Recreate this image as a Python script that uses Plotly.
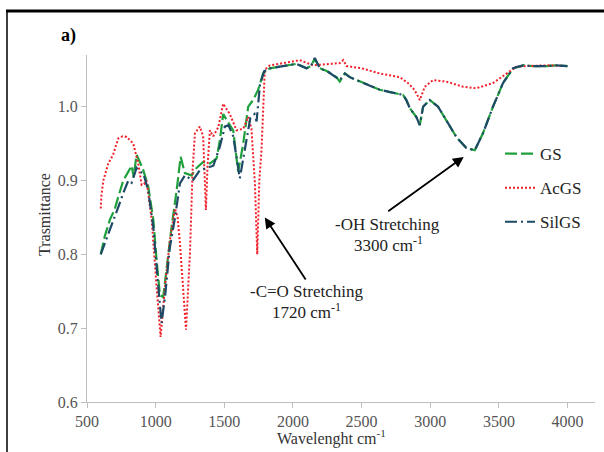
import plotly.graph_objects as go

# ---------------- data ----------------
gs_x = [600, 630, 667, 700, 728, 764, 801, 825, 840, 861, 885, 910, 946, 983, 1007, 1031,
        1055, 1080, 1116, 1153, 1182, 1213, 1262, 1298, 1346, 1395, 1444, 1468, 1492, 1517,
        1565, 1601, 1638, 1674, 1710, 1747, 1783, 1832, 1900, 1953, 2026, 2099, 2130, 2159,
        2196, 2250, 2317, 2341, 2378, 2414, 2500, 2632, 2700, 2802, 2826, 2851, 2899, 2924,
        2948, 2996, 3057, 3117, 3190, 3263, 3324, 3384, 3457, 3530, 3603, 3676, 3750, 3846,
        3920, 4000]
gs_y = [0.800, 0.825, 0.847, 0.860, 0.878, 0.900, 0.912, 0.920, 0.905, 0.935, 0.925, 0.914,
        0.892, 0.847, 0.792, 0.745, 0.742, 0.783, 0.837, 0.887, 0.932, 0.910, 0.907, 0.917,
        0.925, 0.923, 0.930, 0.955, 0.990, 0.982, 0.968, 0.912, 0.950, 1.000, 1.009, 1.023,
        1.045, 1.052, 1.054, 1.056, 1.058, 1.052, 1.055, 1.065, 1.052, 1.048, 1.040, 1.034,
        1.045, 1.040, 1.033, 1.023, 1.020, 1.016, 1.009, 0.998, 0.986, 0.975, 1.000, 1.009,
        1.000, 0.982, 0.959, 0.944, 0.941, 0.964, 1.000, 1.032, 1.052, 1.056, 1.055, 1.055,
        1.056, 1.055]

acgs_x = [600, 605, 619, 655, 690, 728, 760, 789, 837, 873, 898, 915, 934, 971, 1007, 1036,
          1068, 1104, 1141, 1160, 1177, 1201, 1221, 1250, 1269, 1286, 1322, 1346, 1356, 1366,
          1378, 1395, 1420, 1456, 1492, 1510, 1540, 1589, 1638, 1674, 1698, 1723, 1740, 1755,
          1771, 1795, 1832, 1900, 1978, 2050, 2147, 2250, 2341, 2366, 2390, 2500, 2632, 2778,
          2838, 2875, 2900, 2924, 2960, 3020, 3117, 3239, 3336, 3457, 3554, 3627, 3700, 3850,
          4000]
acgs_y = [0.862, 0.880, 0.900, 0.923, 0.935, 0.957, 0.960, 0.959, 0.950, 0.923, 0.894, 0.895,
          0.900, 0.847, 0.756, 0.688, 0.756, 0.819, 0.862, 0.850, 0.815, 0.756, 0.698, 0.802,
          0.914, 0.964, 0.973, 0.960, 0.900, 0.860, 0.920, 0.968, 0.960, 0.972, 1.004, 0.998,
          0.990, 0.968, 0.970, 0.986, 0.970, 0.896, 0.800, 0.900, 0.941, 1.050, 1.056, 1.058,
          1.061, 1.063, 1.056, 1.058, 1.059, 1.063, 1.055, 1.052, 1.045, 1.040, 1.032, 1.025,
          1.018, 1.009, 1.027, 1.036, 1.034, 1.027, 1.025, 1.032, 1.045, 1.054, 1.055, 1.056,
          1.055]

silgs_x = [600, 630, 667, 700, 728, 764, 801, 825, 861, 885, 910, 946, 983, 1019, 1043, 1068,
           1104, 1141, 1177, 1213, 1270, 1322, 1370, 1420, 1468, 1504, 1530, 1565, 1613, 1650,
           1690, 1720, 1735, 1760, 1790, 1832, 1900, 1953, 2026, 2099, 2130, 2159, 2196, 2250,
           2317, 2341, 2378, 2414, 2500, 2632, 2700, 2802, 2826, 2851, 2899, 2924, 2948, 2996,
           3057, 3117, 3190, 3263, 3324, 3384, 3457, 3530, 3603, 3676, 3750, 3846, 3920, 4000]
silgs_y = [0.800, 0.815, 0.832, 0.848, 0.864, 0.883, 0.900, 0.897, 0.917, 0.912, 0.910, 0.886,
           0.837, 0.757, 0.707, 0.742, 0.810, 0.850, 0.896, 0.907, 0.900, 0.914, 0.917, 0.920,
           0.946, 0.973, 0.975, 0.960, 0.903, 0.945, 0.985, 0.990, 0.980, 1.030, 1.048, 1.052,
           1.054, 1.056, 1.058, 1.052, 1.055, 1.066, 1.052, 1.048, 1.040, 1.036, 1.045, 1.040,
           1.033, 1.023, 1.020, 1.016, 1.009, 0.998, 0.986, 0.975, 1.000, 1.009, 1.000, 0.982,
           0.959, 0.944, 0.941, 0.964, 1.000, 1.032, 1.052, 1.056, 1.055, 1.055, 1.056, 1.055]

x_ticks = [500, 1000, 1500, 2000, 2500, 3000, 3500, 4000]
y_ticks = [0.6, 0.7, 0.8, 0.9, 1.0]

# ---------------- figure ----------------
SERIF = "Liberation Serif"
W, H = 604, 452
# plot area in page pixels: x 87..595, y 55..402
ML, MR, MT, MB = 87, 9, 55, 50
PW, PH = W - ML - MR, H - MT - MB


def px(xp):
    return (xp - ML) / PW


def py(yp):
    return (H - MB - yp) / PH


fig = go.Figure()
fig.add_trace(go.Scatter(x=gs_x, y=gs_y, name="GS", mode="lines", legendgroup="a",
                         line=dict(color="#1FA03C", width=2.2, dash="12px,4px")))
fig.add_trace(go.Scatter(x=acgs_x, y=acgs_y, name="AcGS", mode="lines", legendgroup="b",
                         line=dict(color="#F0202A", width=2, dash="2px,2px")))
fig.add_trace(go.Scatter(x=silgs_x, y=silgs_y, name="SilGS", mode="lines", legendgroup="c",
                         line=dict(color="#1F4A66", width=2.2, dash="12px,4px,2px,4px")))

axis_common = dict(showgrid=False, zeroline=False, showline=True, linecolor="#BEBEBE",
                   linewidth=1, ticks="outside", tickcolor="#BEBEBE", ticklen=5,
                   tickfont=dict(family=SERIF, size=16, color="#555555"))
fig.update_xaxes(range=[500, 4200], tickvals=x_ticks, **axis_common)
fig.update_yaxes(range=[0.6, 1.07], tickvals=y_ticks, tickformat=".1f", **axis_common)


def label(xp, yp, text, size=17, color="#222222", angle=0):
    return dict(x=px(xp), y=py(yp), xref="paper", yref="paper", text=text,
                showarrow=False, xanchor="center", yanchor="middle", textangle=angle,
                font=dict(family=SERIF, size=size, color=color))


annotations = [
    label(68, 35, "<b>a)</b>", size=18, color="black"),
    label(331, 437, "Wavelenght cm<sup>-1</sup>", size=16, color="#333333"),
    label(44, 215, "Trasmittance", size=16, color="#333333", angle=-90),
    # arrows
    dict(x=1795, y=0.850, ax=2100, ay=0.764, xref="x", yref="y", axref="x", ayref="y",
         text="", showarrow=True, arrowhead=2, arrowsize=1.2, arrowwidth=1.8, arrowcolor="black"),
    dict(x=3244, y=0.932, ax=2683, ay=0.857, xref="x", yref="y", axref="x", ayref="y",
         text="", showarrow=True, arrowhead=2, arrowsize=1.2, arrowwidth=1.8, arrowcolor="black"),
    # labels
    label(306, 291, "-C=O Stretching"),
    label(306, 311, "1720 cm<sup>-1</sup>"),
    label(387, 224, "-OH Stretching"),
    label(388, 244, "3300 cm<sup>-1</sup>"),
]

shapes = [
    dict(type="line", xref="paper", yref="paper", x0=px(6), x1=px(604), y0=py(11), y1=py(11),
         line=dict(color="black", width=3)),
    dict(type="line", xref="paper", yref="paper", x0=px(7), x1=px(7), y0=py(10), y1=py(452),
         line=dict(color="black", width=1.5)),
]

fig.update_layout(
    width=W, height=H,
    margin=dict(l=ML, r=MR, t=MT, b=MB),
    paper_bgcolor="white", plot_bgcolor="white",
    showlegend=True,
    legend=dict(x=px(500), y=py(136), xanchor="left", yanchor="top",
                traceorder="grouped", tracegroupgap=9, bgcolor="rgba(0,0,0,0)",
                font=dict(family=SERIF, size=17, color="#222222")),
    annotations=annotations,
    shapes=shapes,
)

fig.write_html("out.html", config={"displayModeBar": False},
               post_script="document.body.style.margin='0px';document.body.style.overflow='hidden';")
